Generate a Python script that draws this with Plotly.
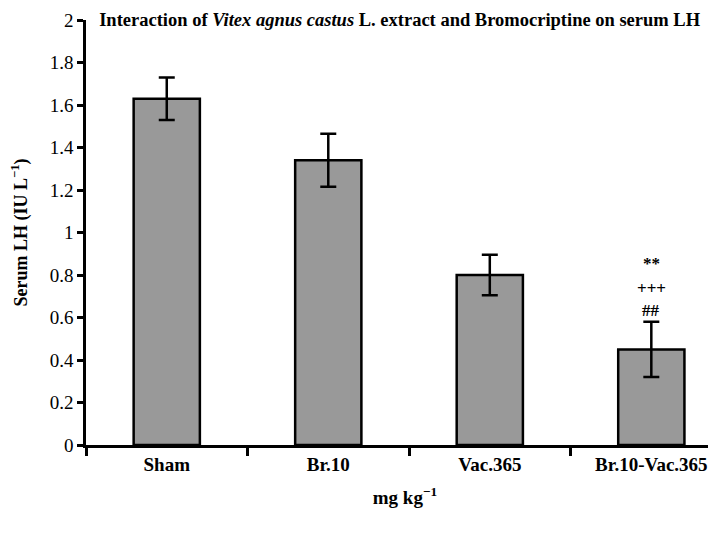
import plotly.graph_objects as go

groups = ["Sham", "Br.10", "Vac.365", "Br.10-Vac.365"]
lh_mean = [1.63, 1.34, 0.80, 0.45]
lh_sem = [0.10, 0.125, 0.095, 0.13]

# significance marks over the last group
sig_group = "Br.10-Vac.365"
sig_marks = ["##", "+++", "**"]

FONT = "Liberation Serif"

fig = go.Figure()

fig.add_trace(
    go.Bar(
        x=groups,
        y=lh_mean,
        width=0.41,
        marker=dict(color="#999999", line=dict(color="black", width=2.5)),
        error_y=dict(type="data", array=lh_sem, color="black", thickness=2.5, width=8),
        showlegend=False,
    )
)

idx = groups.index(sig_group)
top = lh_mean[idx] + lh_sem[idx]
for mark, shift in zip(sig_marks, [11, 33, 58]):
    fig.add_annotation(
        x=sig_group,
        y=top,
        text=f"<b>{mark}</b>",
        showarrow=False,
        yshift=shift,
        yanchor="middle",
        font=dict(family=FONT, size=17, color="black"),
    )

# the page body adds an 8px offset, so margins are trimmed by 8
fig.update_layout(
    width=716,
    height=533,
    template="simple_white",
    paper_bgcolor="white",
    plot_bgcolor="white",
    margin=dict(l=78, r=0, t=12, b=96, autoexpand=False),
    font=dict(family=FONT, size=18, color="black"),
    title=dict(
        text="<b>Interaction of <i>Vitex agnus castus</i> L. extract and Bromocriptine on serum LH</b>",
        x=0.547,
        xanchor="center",
        y=0.979,
        yanchor="middle",
        font=dict(family=FONT, size=18.5, color="black"),
    ),
)

fig.update_xaxes(
    range=[-0.5, 3.45],
    automargin=False,
    showline=True,
    linecolor="black",
    linewidth=2.5,
    ticks="outside",
    tickson="boundaries",
    ticklen=8,
    tickwidth=2.5,
    tickcolor="black",
    tickfont=dict(family=FONT, size=19),
    ticktext=[f"<b>{g}</b>" for g in groups],
    tickvals=groups,
    title=dict(text="<b>mg kg<sup>\u22121</sup></b>", standoff=18, font=dict(family=FONT, size=19)),
)

fig.update_yaxes(
    range=[0, 2],
    dtick=0.2,
    automargin=False,
    showline=True,
    linecolor="black",
    linewidth=2.5,
    ticks="outside",
    ticklen=6,
    tickwidth=2.5,
    tickcolor="black",
    showgrid=False,
    zeroline=False,
    tickfont=dict(family=FONT, size=19),
    tickformat="~g",
    title=dict(text="<b>Serum LH (IU L<sup>\u22121</sup>)</b>", standoff=22, font=dict(family=FONT, size=18)),
)

fig.write_html("out.html")
